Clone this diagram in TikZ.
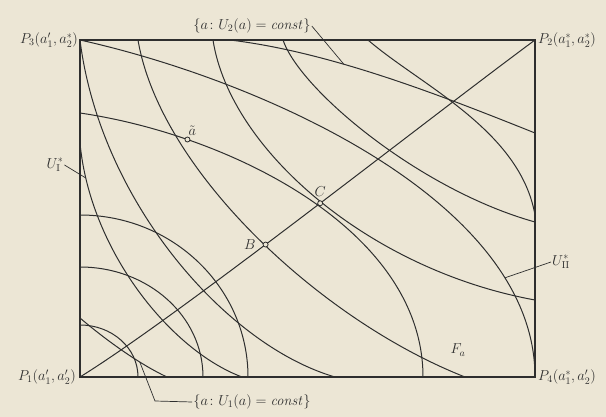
\documentclass[tikz,border=0pt]{standalone}
\usepackage{amsmath,amssymb}
\usepackage{xcolor,tikz}
\usetikzlibrary{positioning,calc}
\definecolor{Paper}{HTML}{ECE6D5}
\definecolor{Ink}{HTML}{2E2E2E}

\begin{document}
\begin{tikzpicture}[x=1pt,y=-1pt,every node/.style={font=\fontsize{14}{17}\selectfont,text=Ink,inner sep=1pt},
  frame/.style={draw=Ink,line width=1.3pt},
  curve/.style={draw=Ink,line width=1pt},
  leader/.style={draw=Ink,line width=0.7pt},
  dotpt/.style={circle,draw=Ink,fill=Paper,line width=0.8pt,inner sep=0pt,minimum size=5pt}]
\fill[Paper] (0,0) rectangle (606,417);
\useasboundingbox (0,0) rectangle (606,417);
\coordinate (P1) at (80,377);
\coordinate (P2) at (535,40);
\coordinate (P3) at (80,40);
\coordinate (P4) at (535,377);
\draw[frame] (P1) rectangle (P2);
\draw[curve] (P1) .. controls (180,315) and (420,125) .. (P2) coordinate[pos=.43] (cB) coordinate[pos=.535] (cC);
\draw[curve] (80,325) .. controls (112,325) and (138,348) .. (138,377);
\draw[curve] (80,267) .. controls (148,267) and (203,316) .. (203,377);
\draw[curve] (80,215) .. controls (173,215) and (248,288) .. (248,377);
\draw[curve] (80,113) .. controls (230,135) and (423,230) .. (423,377) coordinate[pos=.23] (catil);
\draw[curve] (P3) .. controls (260,80) and (535,200) .. (P4) coordinate[pos=.8] (u2star);
\draw[curve] (230,40) .. controls (330,52) and (440,95) .. (535,133) coordinate[pos=.37] (u2touch);
\draw[curve] (368,40) .. controls (420,85) and (520,130) .. (535,215);
\draw[curve] (80,318) .. controls (100,335) and (135,362) .. (167,377) coordinate[pos=.72] (u1touch);
\draw[curve] (80,143) .. controls (90,250) and (170,350) .. (242,377) coordinate[pos=.11] (u1star);
\draw[curve] (P3) .. controls (100,200) and (225,345) .. (335,377);
\draw[curve] (138,40) .. controls (160,170) and (320,320) .. (465,377);
\draw[curve] (213,40) .. controls (230,150) and (370,270) .. (535,300);
\draw[curve] (283,40) .. controls (300,90) and (420,190) .. (535,222);
\node[dotpt] (atil) at (catil) {};
\node[dotpt] (ptB) at (cB) {};
\node[dotpt] (ptC) at (cC) {};
\node[above right=1pt and -2pt of atil] (latil) {$\tilde a$};
\node[above=3pt of ptC] (lC) {$C$};
\node[left=6pt of ptB] (lB) {$B$};
\node (lFa) at (458,350) {$F_a$};
\node[left=1pt of P3] (lP3) {$P_3(a_1',a_2^*)$};
\node[right=2pt of P2] (lP2) {$P_2(a_1^*,a_2^*)$};
\node[left=3pt of P1] (lP1) {$P_1(a_1',a_2')$};
\node[right=2pt of P4] (lP4) {$P_4(a_1^*,a_2')$};
\node (lU2) at (252,26) {$\{a\colon U_2(a)=\mathit{const}\}$};
\node (lU1) at (252,402) {$\{a\colon U_1(a)=\mathit{const}\}$};
\node (lUI) at (55,165) {$U_{\mathrm{I}}^*$};
\node (lUII) at (561,262) {$U_{\mathrm{II}}^*$};
\coordinate (u1bend) at (155,401);
\draw[leader] (lU2.east) -- (u2touch);
\draw[leader] (u1touch) -- (u1bend) -- (lU1.west);
\draw[leader] (lUI.east) -- (u1star);
\draw[leader] (lUII.west) -- (u2star);
\end{tikzpicture}
\end{document}
